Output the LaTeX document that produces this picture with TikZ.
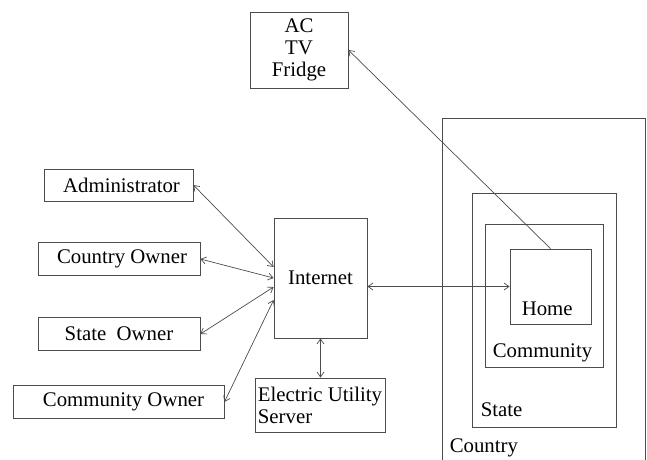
\documentclass[tikz,border=0pt]{standalone}
\usepackage{fontspec}
\setmainfont{Liberation Serif}
\usetikzlibrary{positioning,arrows.meta}

\begin{document}
\begin{tikzpicture}[x=1pt, y=-1pt, >={Straight Barb[length=5pt,width=7pt]},
		every node/.style={font=\rmfamily\fontsize{20.8}{22}\selectfont},
		box/.style={draw=black!70, line width=0.8pt, inner sep=0pt, align=center},
		tag/.style={anchor=base west, inner sep=0pt},
		link/.style={<->, black!70, line width=0.7pt},
		feed/.style={->, black!70, line width=0.7pt}]
				\useasboundingbox (0,0) rectangle (647,459);
				\node[box, minimum width=98pt, minimum height=76pt] (appl) at (299,50) {AC\\TV\\Fridge};
				\node[box, minimum width=149pt, minimum height=32pt] (admin) at (118.5,185) {\hspace*{6pt}Administrator};
				\node[box, minimum width=162pt, minimum height=33pt] (cown) at (119,259) {\hspace*{6pt}Country Owner};
				\node[box, minimum width=162pt, minimum height=33pt] (sown) at (119,334) {State~~Owner};
				\node[box, minimum width=211pt, minimum height=33pt] (comown) at (118.5,402) {\hspace*{10pt}Community Owner};
				\node[box, minimum width=93pt, minimum height=120pt] (inet) at (320.5,278) {Internet};
				\node[box, minimum width=130pt, minimum height=54pt, align=left] (eus) at (320,405) {Electric Utility\\Server};
				\node[box, minimum width=203.5pt, minimum height=357pt] (country) at (543.75,296.5) {};
				\node[box, minimum width=144pt, minimum height=234pt] (state) at (544,310) {};
				\node[box, minimum width=118pt, minimum height=143pt] (community) at (544,295.5) {};
				\node[box, minimum width=81pt, minimum height=75pt] (home) at (550.5,286.5) {};
				\node[tag] (homelbl) at ([shift={(12,-9)}]home.south west) {Home};
				\node[tag] (communitylbl) at ([shift={(8,-10)}]community.south west) {Community};
				\node[tag] (statelbl) at ([shift={(9,-11)}]state.south west) {State};
				\node[tag] (countrylbl) at ([shift={(8,-23)}]country.south west) {Country};
				\draw[link] (admin.east) -- ([yshift=11pt]inet.west);
				\draw[link] (cown.east) -- (inet.west);
				\draw[link] (sown.east) -- ([yshift=-9pt]inet.west);
				\draw[link] (comown.east) -- ([yshift=-22pt]inet.west);
				\draw[link] (inet.south) -- (inet.south |- eus.north);
				\draw[link] (inet.east |- home.west) -- (home.west);
				\draw[feed] (home.north) -- (appl.east);
			\end{tikzpicture}
\end{document}
